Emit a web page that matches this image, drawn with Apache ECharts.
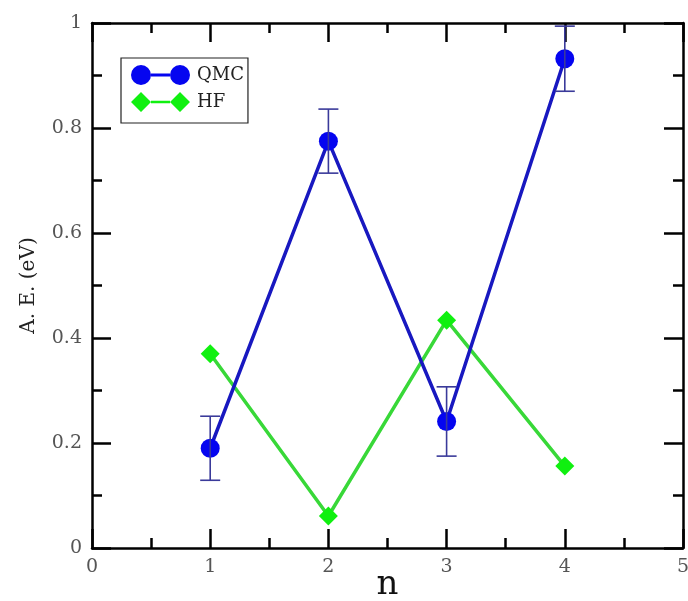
<!DOCTYPE html>
<html>
<head>
<meta charset="utf-8">
<script src="https://cdn.jsdelivr.net/npm/echarts@6/dist/echarts.min.js"></script>
<style>
  html, body { margin: 0; padding: 0; background: #fff; }
  #chart { width: 688px; height: 601px; }
</style>
</head>
<body>
<div id="chart"></div>
<script>
// n values and adiabatic energies (eV)
var nValues = [1, 2, 3, 4];
var qmcValues = [0.19, 0.775, 0.241, 0.932];
var qmcErrors = [0.061, 0.061, 0.066, 0.062];
var hfValues = [0.370, 0.061, 0.434, 0.156];

var xTicks = [0, 1, 2, 3, 4, 5];
var yTicks = [0, 0.2, 0.4, 0.6, 0.8, 1];

var FONT = '"DejaVu Serif", "Liberation Serif", serif';
var QMC_LINE = '#1818c0';
var QMC_MARK = '#0505f0';
var HF_LINE = '#38d838';
var HF_MARK = '#10f010';
var ERR_COLOR = '#3a3a9a';

function pairs(xs, ys) {
  return xs.map(function (x, i) { return [x, ys[i]]; });
}

var errData = nValues.map(function (x, i) {
  return [x, qmcValues[i] - qmcErrors[i], qmcValues[i] + qmcErrors[i]];
});

// legend icons: two markers joined by a bar
var circleIcon = 'path://M0,10 a10,10 0 1,0 20,0 a10,10 0 1,0 -20,0 Z M39,10 a10,10 0 1,0 20,0 a10,10 0 1,0 -20,0 Z M20,8.4 L39,8.4 L39,11.6 L20,11.6 Z';
var diamondIcon = 'path://M0,10 L10,0 L20,10 L10,20 Z M39,10 L49,0 L59,10 L49,20 Z M20,8.7 L39,8.7 L39,11.3 L20,11.3 Z';

function boxAxis(kind, pos, showLabels, nameOpts) {
  var ax = {
    type: 'value',
    position: pos,
    min: 0,
    max: kind === 'x' ? 5 : 1,
    interval: kind === 'x' ? 1 : 0.2,
    axisLine: { show: true, onZero: false, lineStyle: { color: '#000', width: 2.5 } },
    axisTick: { show: true, inside: true, length: 19, lineStyle: { color: '#000', width: 2.5 } },
    minorTick: { show: true, splitNumber: 2, length: 10, lineStyle: { color: '#000', width: 2.5 } },
    splitLine: { show: false },
    axisLabel: {
      show: showLabels,
      fontFamily: FONT,
      fontSize: 19,
      color: '#555',
      margin: 10,
      formatter: function (v) { return String(Math.round(v * 10) / 10); }
    }
  };
  if (nameOpts) { for (var k in nameOpts) ax[k] = nameOpts[k]; }
  return ax;
}

var chart = echarts.init(document.getElementById('chart'), null, { renderer: 'canvas' });

chart.setOption({
  animation: false,
  backgroundColor: '#fff',
  grid: { left: 92, right: 5, top: 23, bottom: 53, containLabel: false, outerBoundsMode: 'none' },
  legend: {
    orient: 'vertical',
    left: 121,
    top: 58,
    padding: [7, 4, 11, 10],
    itemGap: 7,
    itemWidth: 59,
    itemHeight: 20,
    borderColor: '#222',
    borderWidth: 1.2,
    borderRadius: 0,
    backgroundColor: '#fff',
    textStyle: { fontFamily: FONT, fontSize: 18, color: '#222', padding: [0, 0, 0, 2] },
    data: [
      { name: 'QMC', icon: circleIcon, itemStyle: { color: QMC_MARK } },
      { name: 'HF', icon: diamondIcon, itemStyle: { color: HF_MARK } }
    ]
  },
  xAxis: [
    boxAxis('x', 'bottom', true, {
      name: 'n',
      nameLocation: 'middle',
      nameGap: 20,
      nameMoveOverlap: false,
      nameTextStyle: { fontFamily: FONT, fontSize: 34, color: '#111' }
    }),
    boxAxis('x', 'top', false)
  ],
  yAxis: [
    boxAxis('y', 'left', true, {
      name: 'A. E. (eV)',
      nameLocation: 'middle',
      nameGap: 53,
      nameMoveOverlap: false,
      nameRotate: 90,
      nameTextStyle: { fontFamily: FONT, fontSize: 20, color: '#222' }
    }),
    boxAxis('y', 'right', false)
  ],
  series: [
    {
      name: 'HF',
      type: 'line',
      data: pairs(nValues, hfValues),
      symbol: 'diamond',
      symbolSize: 19,
      lineStyle: { color: HF_LINE, width: 3.5 },
      itemStyle: { color: HF_MARK },
      z: 3
    },
    {
      name: 'QMC',
      type: 'line',
      data: pairs(nValues, qmcValues),
      symbol: 'circle',
      symbolSize: 19,
      lineStyle: { color: QMC_LINE, width: 3.5 },
      itemStyle: { color: QMC_MARK },
      z: 4
    },
    {
      name: 'QMC error',
      type: 'custom',
      data: errData,
      z: 5,
      renderItem: function (params, api) {
        var x = api.value(0);
        var lo = api.coord([x, api.value(1)]);
        var hi = api.coord([x, api.value(2)]);
        var half = 10;
        var style = { stroke: ERR_COLOR, lineWidth: 1.6, fill: null };
        return {
          type: 'group',
          children: [
            { type: 'line', shape: { x1: lo[0], y1: lo[1], x2: hi[0], y2: hi[1] }, style: style },
            { type: 'line', shape: { x1: lo[0] - half, y1: lo[1], x2: lo[0] + half, y2: lo[1] }, style: style },
            { type: 'line', shape: { x1: hi[0] - half, y1: hi[1], x2: hi[0] + half, y2: hi[1] }, style: style }
          ]
        };
      }
    }
  ]
});
</script>
</body>
</html>
